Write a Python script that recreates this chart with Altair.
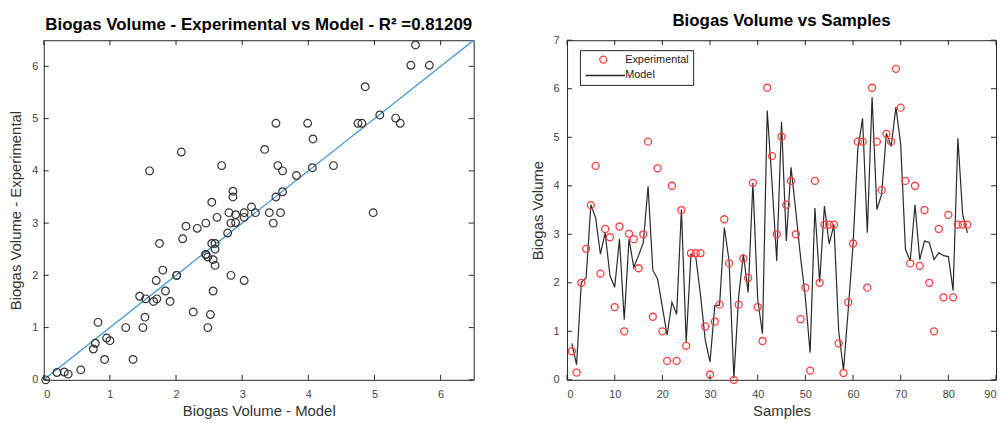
import altair as alt
import pandas as pd

samples = list(range(1, 85))
experimental = [0.59, 0.15, 2.0, 2.7, 3.6, 4.41, 2.19, 3.11, 2.94, 1.5,
                3.16, 1.0, 3.01, 2.9, 2.3, 3.0, 4.91, 1.3, 4.36, 1.0,
                0.39, 4.0, 0.39, 3.5, 0.7, 2.61, 2.61, 2.61, 1.1, 0.11,
                1.2, 1.55, 3.31, 2.4, 0.0, 1.55, 2.5, 2.1, 4.06, 1.5,
                0.8, 6.02, 4.61, 3.0, 5.01, 3.61, 4.1, 3.0, 1.25, 1.9,
                0.19, 4.1, 2.0, 3.2, 3.2, 3.2, 0.75, 0.14, 1.6, 2.81,
                4.91, 4.91, 1.9, 6.02, 4.91, 3.91, 5.07, 4.91, 6.41, 5.61,
                4.1, 2.4, 4.0, 2.35, 3.5, 2.0, 1.0, 3.11, 1.7, 3.4,
                1.7, 3.2, 3.2, 3.2]
model = [0.75, 0.31, 2.01, 2.1, 3.61, 3.34, 2.59, 3.03, 2.15, 1.91,
         2.9, 1.24, 2.9, 2.32, 2.56, 2.83, 3.99, 2.26, 2.08, 1.5,
         0.92, 1.6, 1.35, 3.51, 0.78, 2.59, 2.54, 1.75, 0.82, 0.37,
         1.53, 1.54, 3.14, 2.45, 0.03, 1.71, 2.59, 1.8, 4.06, 1.66,
         0.95, 5.55, 4.07, 2.45, 5.32, 2.86, 4.38, 3.47, 2.52, 1.7,
         0.56, 3.54, 2.01, 3.58, 2.8, 3.2, 1.0, 0.2, 1.45, 2.78,
         4.75, 5.39, 3.03, 5.83, 3.51, 3.82, 5.08, 4.81, 5.62, 4.86,
         2.69, 2.45, 3.61, 2.48, 2.86, 2.83, 2.48, 2.62, 2.56, 2.54,
         1.84, 4.98, 3.41, 3.03]
fit_x = [0, 6.5]
fit_y = [0, 6.5]
left_ticks = [0, 1, 2, 3, 4, 5, 6]
right_x_ticks = [0, 10, 20, 30, 40, 50, 60, 70, 80, 90]
right_y_ticks = [0, 1, 2, 3, 4, 5, 6, 7]
series_names = ["Experimental", "Model"]

FONT = "Liberation Sans"
W1, H1 = 433, 342
W2, H2 = 432, 342
TK = 5
AX = "#262626"

df = pd.DataFrame({"sample": samples, "experimental": experimental, "model": model})
fit_df = pd.DataFrame({"fx": fit_x, "fy": fit_y})
lt_df = pd.DataFrame({"t": left_ticks})
rx_df = pd.DataFrame({"t": right_x_ticks})
ry_df = pd.DataFrame({"t": right_y_ticks})

axis_common = dict(ticks=False, domain=False, grid=False, labelFont=FONT, labelFontSize=11,
                   labelColor="#444444", titleFont=FONT, titleFontSize=15,
                   titleFontWeight="normal", titleColor="#333333")

def xaxis(vals, title):
    return alt.Axis(values=vals, title=title, labelPadding=9, titlePadding=4, **axis_common)

def yaxis(vals, title, lp):
    return alt.Axis(values=vals, title=title, labelPadding=lp, titlePadding=8, **axis_common)

def tick_layers(xscale, yscale, xa, ya, W, H, xdf, ydf):
    b = alt.Chart(xdf).mark_rule(color=AX, strokeWidth=1).encode(
        x=alt.X("t:Q", scale=xscale, axis=xa), y=alt.value(H), y2=alt.value(H - TK))
    t = alt.Chart(xdf).mark_rule(color=AX, strokeWidth=1).encode(
        x=alt.X("t:Q", scale=xscale, axis=xa), y=alt.value(0), y2=alt.value(TK))
    l = alt.Chart(ydf).mark_rule(color=AX, strokeWidth=1).encode(
        y=alt.Y("t:Q", scale=yscale, axis=ya), x=alt.value(0), x2=alt.value(TK))
    r = alt.Chart(ydf).mark_rule(color=AX, strokeWidth=1).encode(
        y=alt.Y("t:Q", scale=yscale, axis=ya), x=alt.value(W), x2=alt.value(W - TK))
    return [b, t, l, r]

# ---------------- left chart ----------------
xs1 = alt.Scale(domain=[0, 6.5], nice=False, zero=False)
ys1 = alt.Scale(domain=[0, 6.5], nice=False, zero=False)
xa1 = xaxis(left_ticks, "Biogas Volume - Model")
ya1 = yaxis(left_ticks, "Biogas Volume - Experimental", 6)

scatter = alt.Chart(df).mark_point(shape="circle", filled=False, size=60, color="#333333",
                                   strokeWidth=1.2, opacity=1).encode(
    x=alt.X("model:Q", scale=xs1, axis=xa1),
    y=alt.Y("experimental:Q", scale=ys1, axis=ya1),
)
fit_line = alt.Chart(fit_df).mark_line(color="#3f95d4", strokeWidth=1.3).encode(
    x=alt.X("fx:Q", scale=xs1, axis=xa1), y=alt.Y("fy:Q", scale=ys1, axis=ya1))

left = alt.layer(fit_line, scatter, *tick_layers(xs1, ys1, xa1, ya1, W1, H1, lt_df, lt_df)).properties(
    width=W1, height=H1,
    title=alt.TitleParams("Biogas Volume - Experimental vs Model - R² =0.81209", font=FONT,
                          fontSize=17, fontWeight="bold", color="#000000", offset=4))

# ---------------- right chart ----------------
xs2 = alt.Scale(domain=[0, 90], nice=False, zero=False)
ys2 = alt.Scale(domain=[0, 7], nice=False, zero=False)
xa2 = xaxis(right_x_ticks, "Samples")
ya2 = yaxis(right_y_ticks, "Biogas Volume", 8)

model_line = alt.Chart(df).mark_line(color="#2a2a2a", strokeWidth=1.2).encode(
    x=alt.X("sample:Q", scale=xs2, axis=xa2),
    y=alt.Y("model:Q", scale=ys2, axis=ya2),
)
leg = alt.Legend(title=None, orient="none", legendX=540, legendY=10)
exp_points = alt.Chart(df).transform_calculate(series="'Experimental'").mark_point(
    filled=False, strokeWidth=1.3, opacity=1, size=50).encode(
    x=alt.X("sample:Q", scale=xs2, axis=xa2),
    y=alt.Y("experimental:Q", scale=ys2, axis=ya2),
    color=alt.Color("series:N", scale=alt.Scale(domain=series_names, range=["#ff3b3b", "#2a2a2a"]),
                    legend=leg),
    shape=alt.Shape("series:N", scale=alt.Scale(domain=series_names, range=["circle", "M-5.1,0H6.2"]),
                    legend=leg),
)

right = alt.layer(model_line, exp_points, *tick_layers(xs2, ys2, xa2, ya2, W2, H2, rx_df, ry_df)).properties(
    width=W2, height=H2,
    title=alt.TitleParams("Biogas Volume vs Samples", font=FONT, fontSize=17, fontWeight="bold",
                          color="#000000", offset=4))

chart = alt.hconcat(left, right, spacing=52).properties(
    padding={"left": 0, "top": 2, "right": 0, "bottom": 0}
).configure_view(stroke=AX, strokeWidth=1).configure_legend(
    labelFont=FONT, labelFontSize=11, labelColor="#222222", strokeColor=AX, fillColor="white",
    padding=4, rowPadding=3, symbolStrokeWidth=1.3, symbolOffset=14, labelOffset=16.5,
    cornerRadius=0, symbolSize=50
)

chart.save("out.html", embed_options={"renderer": "svg", "actions": False})
